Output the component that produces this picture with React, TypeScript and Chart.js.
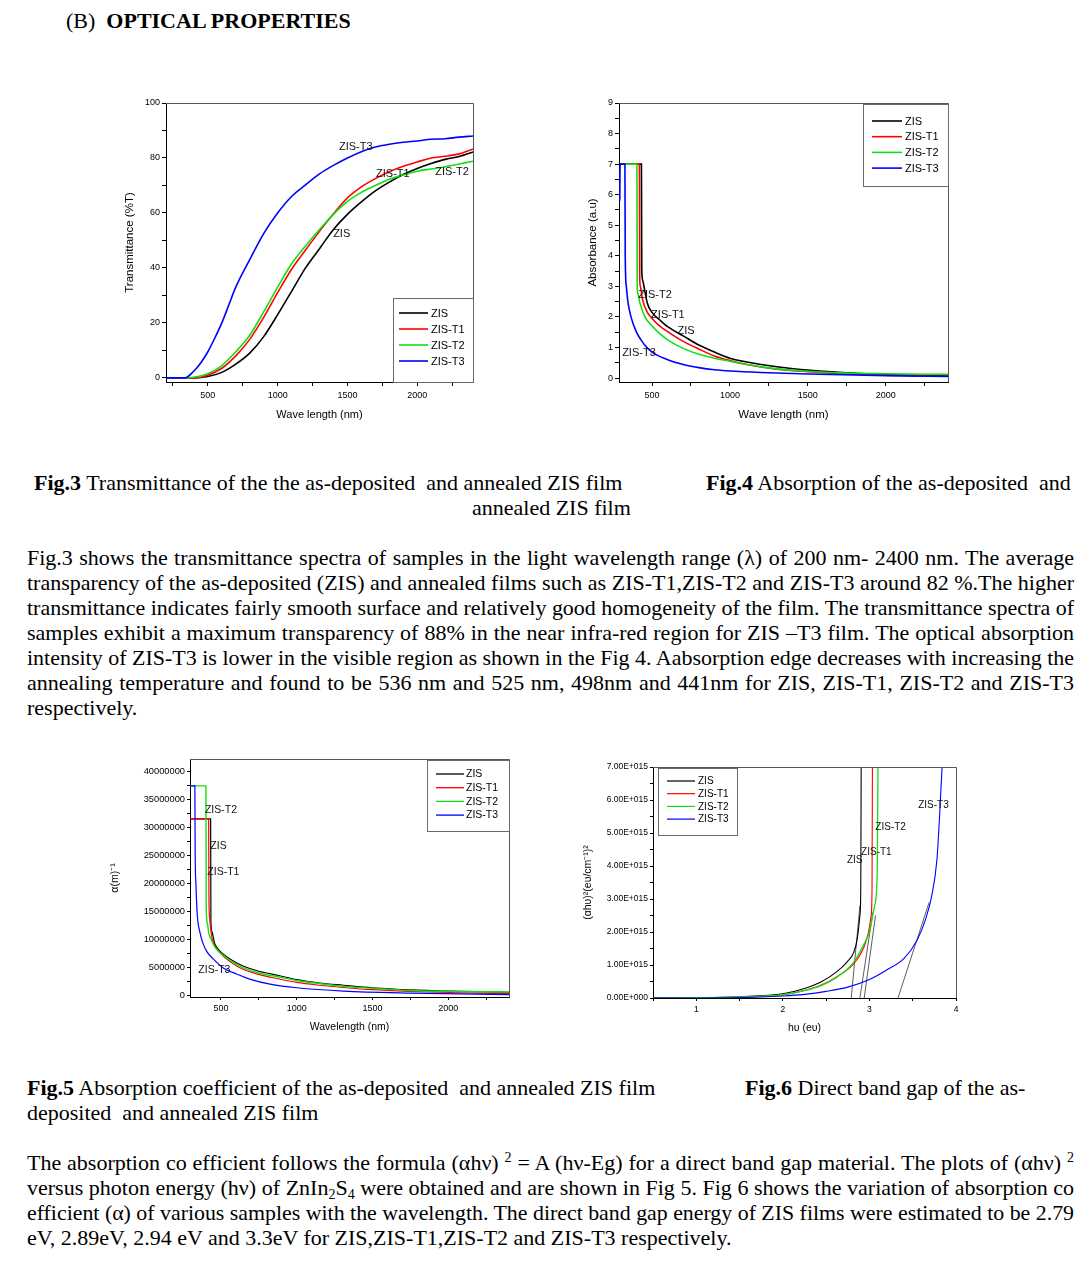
import React, { useEffect, useLayoutEffect, useRef } from 'react';
import { Chart, registerables } from 'chart.js';

Chart.register(...registerables);

// ---------------- shared ----------------
const SERIES_NAMES = ['ZIS', 'ZIS-T1', 'ZIS-T2', 'ZIS-T3'];
const SERIES_COLORS = ['#000000', '#ff0000', '#10e010', '#0000ff'];

// ---------------- Fig.3 Transmittance ----------------
const f3Wave = [200, 300, 400, 500, 600, 700, 800, 900, 1000, 1100, 1200, 1300, 1400, 1500, 1600, 1700, 1800, 1900, 2000, 2100, 2200, 2300, 2400];
const f3Zis = [0, 0, 0, 0.5, 2, 5, 9, 15, 23, 31.5, 40, 47, 54, 59.5, 64, 68, 71.2, 74, 76.2, 78, 79.5, 80.5, 82.2];
const f3T1 = [0, 0, 0, 1, 3.5, 8, 14, 22, 31, 39.5, 46.5, 53.3, 59.7, 65.5, 69.5, 72.5, 75, 77, 78.5, 80, 80.6, 81.5, 83.3];
const f3T2 = [0, 0, 0.2, 1.5, 4.5, 9.5, 15.5, 24, 33, 41.5, 48, 54, 59.5, 64.2, 67.5, 70, 72.3, 73.8, 75.2, 76, 76.8, 77.8, 78.8];
const f3T3Wave = [200, 335, 400, 450, 500, 550, 600, 650, 700, 800, 900, 1000, 1100, 1200, 1300, 1400, 1500, 1600, 1700, 1800, 1900, 2000, 2100, 2200, 2300, 2400];
const f3T3 = [0, 0, 2.5, 5.5, 9.5, 14.5, 20, 26.5, 33, 43, 52.5, 60, 66, 70.2, 74.2, 77.3, 80, 82.3, 84, 85, 85.7, 86.2, 86.8, 87, 87.6, 88];
const f3LabelText = ['ZIS-T3', 'ZIS-T1', 'ZIS-T2', 'ZIS'];
const f3LabelX = [1560, 1826, 2250, 1459];
const f3LabelY = [84, 74.2, 75, 52.4];

// ---------------- Fig.4 Absorbance ----------------
const f4ZisWave = [295, 432, 434, 440, 450, 470, 500, 550, 600, 700, 800, 900, 1000, 1100, 1200, 1300, 1500, 1700, 2000, 2400];
const f4ZisAbs = [7, 7, 3.6, 3.2, 2.95, 2.45, 2.15, 1.9, 1.68, 1.38, 1.08, 0.85, 0.65, 0.53, 0.44, 0.37, 0.26, 0.19, 0.11, 0.07];
const f4T1Wave = [295, 419, 421, 425, 440, 470, 500, 550, 600, 700, 800, 900, 1000, 1100, 1200, 1300, 1500, 1700, 2000, 2400];
const f4T1Abs = [7, 7, 3.3, 3.0, 2.55, 2.15, 1.95, 1.7, 1.52, 1.2, 0.95, 0.72, 0.57, 0.45, 0.36, 0.29, 0.21, 0.15, 0.09, 0.06];
const f4T2Wave = [295, 403, 405, 410, 420, 455, 500, 550, 600, 700, 800, 900, 1000, 1100, 1200, 1300, 1500, 1700, 2000, 2400];
const f4T2Abs = [7, 7, 3.0, 2.75, 2.5, 2.0, 1.7, 1.45, 1.25, 0.97, 0.78, 0.65, 0.55, 0.45, 0.37, 0.3, 0.22, 0.17, 0.14, 0.12];
const f4T3Wave = [293, 295, 326, 328, 335, 345, 365, 400, 450, 500, 600, 700, 800, 900, 1000, 1200, 1500, 2000, 2400];
const f4T3Abs = [5.8, 7, 7, 4.0, 3.0, 2.5, 2.0, 1.5, 1.1, 0.85, 0.6, 0.44, 0.34, 0.27, 0.23, 0.18, 0.13, 0.08, 0.05];
const f4LabelText = ['ZIS-T2', 'ZIS-T1', 'ZIS', 'ZIS-T3'];
const f4LabelX = [519, 602, 718, 416];
const f4LabelY = [2.72, 2.06, 1.54, 0.82];

// ---------------- Fig.5 Absorption coefficient ----------------
const f5ZisWave = [296, 432, 434, 440, 458, 480, 500, 570, 650, 750, 888, 1000, 1150, 1308, 1500, 1750, 2000, 2400];
const f5ZisAlpha = [31.6e6, 31.6e6, 13e6, 11.5e6, 9.4e6, 8.4e6, 7.8e6, 6.4e6, 5.3e6, 4.4e6, 3.6e6, 2.9e6, 2.3e6, 1.9e6, 1.45e6, 1.07e6, 0.85e6, 0.65e6];
const f5T1Wave = [296, 419, 421, 425, 440, 460, 500, 557, 650, 755, 868, 1000, 1150, 1308, 1500, 1750, 2000, 2400];
const f5T1Alpha = [31.6e6, 31.6e6, 17.5e6, 14e6, 10.5e6, 8.9e6, 7.5e6, 6.2e6, 4.7e6, 3.8e6, 3.1e6, 2.4e6, 1.9e6, 1.5e6, 1.1e6, 0.8e6, 0.6e6, 0.4e6];
const f5T2Wave = [296, 401, 403, 410, 420, 440, 458, 500, 557, 650, 755, 868, 1000, 1150, 1308, 1500, 1750, 2000, 2400];
const f5T2Alpha = [37.5e6, 37.5e6, 16e6, 13e6, 11.2e6, 9.8e6, 8.8e6, 7.6e6, 6.4e6, 5.0e6, 4.05e6, 3.45e6, 2.75e6, 2.2e6, 1.7e6, 1.35e6, 0.95e6, 0.8e6, 0.7e6];
const f5T3Wave = [296, 328, 330, 335, 344, 360, 380, 405, 449, 515, 603, 700, 824, 1000, 1308, 1749, 2400];
const f5T3Alpha = [37.5e6, 37.5e6, 26e6, 20e6, 14.5e6, 11.5e6, 9.5e6, 8.0e6, 6.6e6, 5.0e6, 3.9e6, 2.9e6, 2.1e6, 1.45e6, 0.85e6, 0.5e6, 0.24e6];
const f5LabelText = ['ZIS-T2', 'ZIS', 'ZIS-T1', 'ZIS-T3'];
const f5LabelX = [500, 484, 516, 457];
const f5LabelY = [33.2e6, 26.7e6, 22.1e6, 4.6e6];

// ---------------- Fig.6 Direct band gap ----------------
const f6ZisE = [0.5, 1.0, 1.5, 2.0, 2.25, 2.45, 2.62, 2.74, 2.82, 2.86, 2.89, 2.9, 2.905];
const f6ZisY = [0, 0.01e15, 0.04e15, 0.13e15, 0.29e15, 0.5e15, 0.79e15, 1.09e15, 1.39e15, 1.8e15, 2.5e15, 3.3e15, 7.5e15];
const f6T1E = [0.5, 1.0, 1.5, 2.0, 2.25, 2.45, 2.62, 2.82, 2.93, 2.98, 3.02, 3.03, 3.035];
const f6T1Y = [0, 0.01e15, 0.03e15, 0.1e15, 0.23e15, 0.4e15, 0.64e15, 1.04e15, 1.5e15, 1.9e15, 2.5e15, 3.3e15, 7.5e15];
const f6T2E = [0.5, 1.0, 1.5, 2.0, 2.25, 2.45, 2.62, 2.82, 2.93, 3.0, 3.06, 3.09, 3.1];
const f6T2Y = [0, 0.01e15, 0.03e15, 0.1e15, 0.22e15, 0.38e15, 0.62e15, 1.09e15, 1.6e15, 2.0e15, 2.8e15, 3.8e15, 7.5e15];
const f6T3E = [0.5, 1.0, 1.5, 2.0, 2.25, 2.5, 2.75, 3.0, 3.2, 3.4, 3.55, 3.65, 3.72, 3.78, 3.81, 3.84, 3.85];
const f6T3Y = [0, 0, 0.01e15, 0.06e15, 0.11e15, 0.2e15, 0.33e15, 0.56e15, 0.85e15, 1.2e15, 1.75e15, 2.4e15, 3.1e15, 4.2e15, 5.5e15, 7.0e15, 7.3e15];
// extrapolated tangent lines (x-intercept = band gap)
const f6TangentE0 = [2.79, 2.89, 2.94, 3.33];
const f6TangentE1 = [2.89, 3.04, 3.07, 3.69];
const f6TangentY1 = [2.8e15, 2.6e15, 2.5e15, 2.9e15];
const f6LabelText = ['ZIS-T3', 'ZIS-T2', 'ZIS-T1', 'ZIS'];
const f6LabelX = [3.74, 3.245, 3.08, 2.83];
const f6LabelY = [5.85e15, 5.18e15, 4.42e15, 4.18e15];

// ---------------- plugins ----------------
const SANS = "'Liberation Sans', Arial, sans-serif";
const SERIF = "'Liberation Serif', 'Times New Roman', serif";

const framePlugin = {
  id: 'frame',
  afterDatasetsDraw(chart: any, _a: any, opts: any) {
    const { ctx, chartArea: ca } = chart;
    ctx.save();
    ctx.strokeStyle = opts.color || '#444';
    ctx.lineWidth = 1;
    ctx.beginPath();
    ctx.moveTo(ca.left, Math.round(ca.top) + 0.5);
    ctx.lineTo(Math.round(ca.right) + 0.5, Math.round(ca.top) + 0.5);
    ctx.lineTo(Math.round(ca.right) + 0.5, ca.bottom);
    ctx.stroke();
    ctx.restore();
  },
};

const boxLegendPlugin = {
  id: 'boxLegend',
  afterDatasetsDraw(chart: any, _a: any, o: any) {
    if (!o || !o.display) return;
    const { ctx, chartArea: ca } = chart;
    const x0 = o.hAnchor === 'left' ? ca.left + o.dx : ca.right - o.w - o.dx;
    const y0 = o.vAnchor === 'bottom' ? ca.bottom - o.h - o.dy : ca.top + o.dy;
    ctx.save();
    ctx.fillStyle = '#ffffff';
    ctx.fillRect(x0, y0, o.w, o.h);
    ctx.strokeStyle = '#6a6a6a';
    ctx.lineWidth = 1;
    ctx.strokeRect(Math.round(x0) + 0.5, Math.round(y0) + 0.5, o.w, o.h);
    const items = chart.data.datasets.filter((d: any) => d.label);
    items.forEach((d: any, i: number) => {
      const y = y0 + o.firstRow + i * o.rowH;
      ctx.strokeStyle = d.borderColor;
      ctx.lineWidth = o.lineWidth;
      ctx.beginPath();
      ctx.moveTo(x0 + o.lineX0, y);
      ctx.lineTo(x0 + o.lineX1, y);
      ctx.stroke();
      ctx.fillStyle = '#000';
      ctx.font = `${o.fontSize}px ${SANS}`;
      ctx.textBaseline = 'middle';
      ctx.textAlign = 'left';
      ctx.fillText(d.label, x0 + o.textX, y + 0.5);
    });
    ctx.restore();
  },
};

const annotPlugin = {
  id: 'annot',
  afterDatasetsDraw(chart: any, _a: any, o: any) {
    if (!o || !o.texts) return;
    const { ctx } = chart;
    const xs = chart.scales.x;
    const ys = chart.scales.y;
    ctx.save();
    ctx.fillStyle = '#111';
    ctx.font = `${o.fontSize}px ${SANS}`;
    ctx.textAlign = 'center';
    ctx.textBaseline = 'middle';
    o.texts.forEach((t: string, i: number) => {
      ctx.fillText(t, xs.getPixelForValue(o.xs[i]), ys.getPixelForValue(o.ys[i]));
    });
    ctx.restore();
  },
};

// ---------------- chart builder ----------------
function series(xs: number[], ys: number[]) {
  return xs.map((x, i) => ({ x, y: ys[i] }));
}

function lineDs(label: string, color: string, data: any[], width: number, order: number) {
  return {
    label,
    data,
    borderColor: color,
    backgroundColor: color,
    borderWidth: width,
    pointRadius: 0,
    showLine: true,
    fill: false,
    cubicInterpolationMode: 'monotone',
    order,
  };
}

function axis(o: any) {
  return {
    type: 'linear',
    position: o.position,
    min: o.min,
    max: o.max,
    afterFit: (s: any) => {
      if (o.position === 'left') s.width = o.size;
      else s.height = o.size;
    },
    afterBuildTicks: (s: any) => {
      const ticks: any[] = [];
      const start = Math.ceil(o.min / o.step - 1e-9);
      for (let k = start; k * o.step <= o.max + o.step * 1e-9; k++) ticks.push({ value: k * o.step });
      s.ticks = ticks;
    },
    border: { display: true, color: '#000', width: 1 },
    grid: { display: true, drawOnChartArea: false, drawTicks: true, tickLength: o.tickLen || 4, color: '#000', tickColor: '#000', tickWidth: 1 },
    ticks: {
      autoSkip: false,
      maxRotation: 0,
      minRotation: 0,
      padding: o.tickPad ?? 2,
      color: '#000',
      font: { family: SANS, size: o.tickSize },
      callback: o.fmt,
    },
    title: {
      display: true,
      text: o.title,
      color: '#000',
      font: { family: SANS, size: o.titleSize },
      padding: { top: 3, bottom: 3 },
    },
  };
}

function buildConfig(c: any) {
  return {
    type: 'scatter',
    data: { datasets: c.datasets },
    plugins: [framePlugin, boxLegendPlugin, annotPlugin],
    options: {
      responsive: false,
      maintainAspectRatio: false,
      animation: false,
      devicePixelRatio: 1,
      layout: { padding: { left: 0, top: c.padTop, right: c.padRight, bottom: 0 } },
      scales: { x: axis(c.x), y: axis(c.y) },
      plugins: {
        legend: { display: false },
        tooltip: { enabled: false },
        frame: { color: '#555' },
        boxLegend: c.legend,
        annot: c.annot,
      },
    },
  };
}

function ChartBox({ left, top, width, height, config }: any) {
  const ref = useRef<HTMLCanvasElement | null>(null);
  useEffect(() => {
    if (!ref.current) return;
    const chart = new Chart(ref.current, buildConfig(config) as any);
    return () => chart.destroy();
  }, []);
  return (
    <canvas
      ref={ref}
      width={width}
      height={height}
      style={{ position: 'absolute', left, top, width, height, display: 'block' }}
    />
  );
}

const fmtEvery = (step: number) => (v: any) => {
  const r = v / step;
  return Math.abs(r - Math.round(r)) < 1e-6 ? String(Math.round(v)) : '';
};

const fig3 = {
  padTop: 8,
  padRight: 7,
  datasets: [
    lineDs(SERIES_NAMES[0], SERIES_COLORS[0], series(f3Wave, f3Zis), 1.6, 3),
    lineDs(SERIES_NAMES[1], SERIES_COLORS[1], series(f3Wave, f3T1), 1.6, 2),
    lineDs(SERIES_NAMES[2], SERIES_COLORS[2], series(f3Wave, f3T2), 1.6, 1),
    lineDs(SERIES_NAMES[3], SERIES_COLORS[3], series(f3T3Wave, f3T3), 1.6, 0),
  ],
  x: { position: 'bottom', min: 200, max: 2400, step: 250, fmt: fmtEvery(500), size: 43, tickSize: 9, title: 'Wave length (nm)', titleSize: 11, tickPad: 4 },
  y: { position: 'left', min: -1.5, max: 100, step: 10, fmt: fmtEvery(20), size: 46, tickSize: 9, title: 'Transmittance (%T)', titleSize: 11.5 },
  legend: { display: true, hAnchor: 'right', vAnchor: 'bottom', dx: 0, dy: 0, w: 80, h: 84, firstRow: 15, rowH: 16, lineX0: 6, lineX1: 35, textX: 38, lineWidth: 1.6, fontSize: 11 },
  annot: { texts: f3LabelText, xs: f3LabelX, ys: f3LabelY, fontSize: 11 },
};

const fig4 = {
  padTop: 8,
  padRight: 7,
  datasets: [
    lineDs(SERIES_NAMES[0], SERIES_COLORS[0], series(f4ZisWave, f4ZisAbs), 1.6, 3),
    lineDs(SERIES_NAMES[1], SERIES_COLORS[1], series(f4T1Wave, f4T1Abs), 1.6, 2),
    lineDs(SERIES_NAMES[2], SERIES_COLORS[2], series(f4T2Wave, f4T2Abs), 1.6, 1),
    lineDs(SERIES_NAMES[3], SERIES_COLORS[3], series(f4T3Wave, f4T3Abs), 1.6, 0),
  ],
  x: { position: 'bottom', min: 288, max: 2400, step: 250, fmt: fmtEvery(500), size: 43, tickSize: 9, title: 'Wave length (nm)', titleSize: 11.5, tickPad: 4 },
  y: { position: 'left', min: -0.13, max: 9, step: 0.5, fmt: fmtEvery(1), size: 36, tickSize: 9, title: 'Absorbance (a.u)', titleSize: 11.5 },
  legend: { display: true, hAnchor: 'right', vAnchor: 'top', dx: 0, dy: 1, w: 85, h: 82, firstRow: 17, rowH: 15.7, lineX0: 9, lineX1: 39, textX: 42, lineWidth: 1.6, fontSize: 11 },
  annot: { texts: f4LabelText, xs: f4LabelX, ys: f4LabelY, fontSize: 11 },
};

const fig5 = {
  padTop: 9,
  padRight: 7,
  datasets: [
    lineDs(SERIES_NAMES[0], SERIES_COLORS[0], series(f5ZisWave, f5ZisAlpha), 1.2, 3),
    lineDs(SERIES_NAMES[1], SERIES_COLORS[1], series(f5T1Wave, f5T1Alpha), 1.2, 2),
    lineDs(SERIES_NAMES[2], SERIES_COLORS[2], series(f5T2Wave, f5T2Alpha), 1.4, 1),
    lineDs(SERIES_NAMES[3], SERIES_COLORS[3], series(f5T3Wave, f5T3Alpha), 1.2, 0),
  ],
  x: { position: 'bottom', min: 296, max: 2400, step: 250, fmt: fmtEvery(500), size: 39, tickSize: 9, title: 'Wavelength (nm)', titleSize: 10.5, tickLen: 3, tickPad: 3 },
  y: { position: 'left', min: -0.2e6, max: 42.3e6, step: 2.5e6, fmt: fmtEvery(5e6), size: 84, tickSize: 9.3, title: 'α(m)⁻¹', titleSize: 10.5, tickLen: 3 },
  legend: { display: true, hAnchor: 'right', vAnchor: 'top', dx: 0, dy: 1, w: 82, h: 71, firstRow: 14, rowH: 13.7, lineX0: 9, lineX1: 37, textX: 39, lineWidth: 1.3, fontSize: 10.5 },
  annot: { texts: f5LabelText, xs: f5LabelX, ys: f5LabelY, fontSize: 10.5 },
};

const fmtE15 = (v: any) => {
  const r = v / 1e15;
  if (Math.abs(r - Math.round(r)) > 1e-6) return '';
  return Math.round(r) === 0 ? '0.00E+000' : `${Math.round(r).toFixed(2)}E+015`;
};

const tangentSets = f6TangentE0.map((e0, i) => ({
  label: '',
  data: [{ x: e0, y: 0 }, { x: f6TangentE1[i], y: f6TangentY1[i] }],
  borderColor: '#333333',
  borderWidth: 0.8,
  pointRadius: 0,
  showLine: true,
  fill: false,
  order: 5,
}));

const fig6 = {
  padTop: 9,
  padRight: 7,
  datasets: [
    lineDs(SERIES_NAMES[0], SERIES_COLORS[0], series(f6ZisE, f6ZisY), 1.1, 3),
    lineDs(SERIES_NAMES[1], SERIES_COLORS[1], series(f6T1E, f6T1Y), 1.1, 2),
    lineDs(SERIES_NAMES[2], SERIES_COLORS[2], series(f6T2E, f6T2Y), 1.3, 1),
    lineDs(SERIES_NAMES[3], SERIES_COLORS[3], series(f6T3E, f6T3Y), 1.1, 0),
    ...tangentSets,
  ],
  x: { position: 'bottom', min: 0.5, max: 4, step: 0.5, fmt: fmtEvery(1), size: 39, tickSize: 8.5, title: 'hυ (eυ)', titleSize: 10.5, tickLen: 3, tickPad: 4 },
  y: { position: 'left', min: 0, max: 7e15, step: 0.5e15, fmt: fmtE15, size: 74, tickSize: 8.5, title: '(αhυ)²(eυ/cm⁻¹)²', titleSize: 10.5, tickLen: 3 },
  legend: { display: true, hAnchor: 'left', vAnchor: 'top', dx: 5, dy: 1, w: 79, h: 67, firstRow: 13, rowH: 12.7, lineX0: 9, lineX1: 37, textX: 40, lineWidth: 1.2, fontSize: 10 },
  annot: { texts: f6LabelText, xs: f6LabelX, ys: f6LabelY, fontSize: 10 },
};

// ---------------- text ----------------
const para1 = [
  'Fig.3 shows the transmittance spectra of samples in the light wavelength range (λ) of 200 nm- 2400 nm. The average',
  'transparency of the as-deposited (ZIS) and annealed films such as ZIS-T1,ZIS-T2 and ZIS-T3 around 82 %.The higher',
  'transmittance indicates fairly smooth surface and relatively good homogeneity of the film. The transmittance spectra of',
  'samples exhibit a maximum transparency of 88% in the near infra-red region for ZIS –T3 film. The optical absorption',
  'intensity of ZIS-T3 is lower in the visible region as shown in the Fig 4. Aabsorption edge decreases with increasing the',
  'annealing temperature and found to be 536 nm and 525 nm, 498nm and 441nm for ZIS, ZIS-T1, ZIS-T2 and ZIS-T3',
  'respectively.',
];

const TXT = 22;
const LH = 25;

function JLine({ top, children, last, left = 27, width = 1047 }: any) {
  const ref = useRef<HTMLSpanElement | null>(null);
  useLayoutEffect(() => {
    const el = ref.current;
    if (!el) return;
    el.style.wordSpacing = '0px';
    el.style.transform = '';
    const w = el.getBoundingClientRect().width;
    if (w > width) {
      el.style.display = 'inline-block';
      el.style.transformOrigin = '0 0';
      el.style.transform = `scaleX(${width / w})`;
    } else if (!last) {
      const n = ((el.textContent || '').match(/ /g) || []).length;
      if (n > 0) el.style.wordSpacing = `${(width - w) / n}px`;
    }
  }, []);
  return (
    <div
      style={{
        position: 'absolute',
        left,
        top,
        fontFamily: SERIF,
        fontSize: TXT,
        lineHeight: `${LH}px`,
        color: '#000',
        whiteSpace: 'nowrap',
      } as any}
    >
      <span ref={ref} style={{ whiteSpace: 'pre' }}>{children}</span>
    </div>
  );
}

function TLine({ left, top, children }: any) {
  return (
    <div style={{ position: 'absolute', left, top, fontFamily: SERIF, fontSize: TXT, lineHeight: `${LH}px`, whiteSpace: 'pre', color: '#000' }}>
      {children}
    </div>
  );
}

const sup = { fontSize: 14, position: 'relative', top: -8, lineHeight: 0 } as any;
const sub = { fontSize: 14, position: 'relative', top: 4, lineHeight: 0 } as any;

export default function App() {
  const y0 = 545;
  const y1 = 1150;
  return (
    <div style={{ position: 'absolute', left: 0, top: 0, width: 1086, height: 1261, background: '#fff', overflow: 'hidden' }}>
      <TLine left={66} top={8}>
        {'(B)  '}<b>OPTICAL PROPERTIES</b>
      </TLine>

      <ChartBox left={120} top={95} width={360} height={330} config={fig3} />
      <ChartBox left={583} top={95} width={372} height={330} config={fig4} />

      <TLine left={34} top={470}>
        <b>Fig.3</b>{' Transmittance of the the as-deposited  and annealed ZIS film'}
      </TLine>
      <TLine left={472} top={495}>annealed ZIS film</TLine>
      <TLine left={706} top={470}>
        <b>Fig.4</b>{' Absorption of the as-deposited  and'}
      </TLine>

      {para1.map((t, i) => (
        <JLine key={i} top={y0 + i * LH} last={i === para1.length - 1}>
          {t}
        </JLine>
      ))}

      <ChartBox left={106} top={750} width={410} height={286} config={fig5} />
      <ChartBox left={579} top={758} width={384} height={279} config={fig6} />

      <TLine left={27} top={1075}>
        <b>Fig.5</b>{' Absorption coefficient of the as-deposited  and annealed ZIS film'}
      </TLine>
      <TLine left={27} top={1100}>deposited  and annealed ZIS film</TLine>
      <TLine left={745} top={1075}>
        <b>Fig.6</b>{' Direct band gap of the as-'}
      </TLine>

      <JLine top={y1}>
        {'The absorption co efficient follows the formula (αhν) '}<span style={sup}>2</span>{' = A (hν-Eg) for a direct band gap material. The plots of (αhν) '}<span style={sup}>2</span>
      </JLine>
      <JLine top={y1 + LH}>
        {'versus photon energy (hν) of ZnIn'}<span style={sub}>2</span>{'S'}<span style={sub}>4</span>{' were obtained and are shown in Fig 5. Fig 6 shows the variation of absorption co'}
      </JLine>
      <JLine top={y1 + 2 * LH}>
        {'efficient (α) of various samples with the wavelength. The direct band gap energy of ZIS films were estimated to be 2.79'}
      </JLine>
      <JLine top={y1 + 3 * LH} last>
        {'eV, 2.89eV, 2.94 eV and 3.3eV for ZIS,ZIS-T1,ZIS-T2 and ZIS-T3 respectively.'}
      </JLine>
    </div>
  );
}
